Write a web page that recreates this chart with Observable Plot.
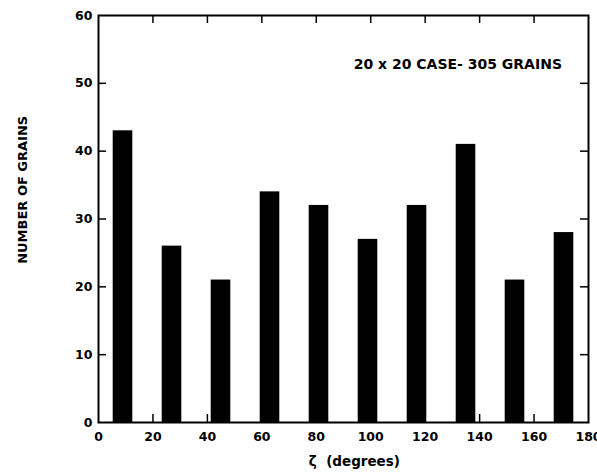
<!DOCTYPE html>
<html>
<head>
<meta charset="utf-8">
<script src="https://cdn.jsdelivr.net/npm/d3@7"></script>
<script src="https://cdn.jsdelivr.net/npm/@observablehq/plot@0.6"></script>
<style>
  html, body { margin: 0; padding: 0; background: #fff; }
  svg { display: block; }
</style>
</head>
<body>
<div id="chart"></div>
<script>
const binCenters = [9, 27, 45, 63, 81, 99, 117, 135, 153, 171];
const grainCounts = [43, 26, 21, 34, 32, 27, 32, 41, 21, 28];
const xTicks = [0, 20, 40, 60, 80, 100, 120, 140, 160, 180];
const yTicks = [0, 10, 20, 30, 40, 50, 60];
const annotation = ["20 x 20 CASE- 305 GRAINS"];
const xLabel = "ζ  (degrees)";
const yLabel = "NUMBER OF GRAINS";

const halfWidth = 3.6;
const bars = binCenters.map((c, i) => ({x1: c - halfWidth, x2: c + halfWidth, y: grainCounts[i]}));

const W = 597, H = 472, mL = 98, mR = 9, mT = 15, mB = 50;
const pw = W - mL - mR, ph = H - mT - mB;
const font = "'DejaVu Sans', 'Liberation Sans', Arial, sans-serif";

const chart = Plot.plot({
  width: W, height: H,
  marginLeft: mL, marginRight: mR, marginTop: mT, marginBottom: mB,
  style: {fontFamily: font, fontWeight: "bold", fontSize: "12.5px", color: "#000", background: "#fff"},
  x: {domain: [0, 180]},
  y: {domain: [0, 60]},
  marks: [
    Plot.rectY(bars, {x1: "x1", x2: "x2", y: "y", fill: "#000"}),
    // inward ticks
    Plot.ruleY(yTicks.slice(1, -1), {y: d => d, insetRight: pw - 8, stroke: "#000", strokeWidth: 1.5}),
    Plot.ruleY(yTicks.slice(1, -1), {y: d => d, insetLeft: pw - 8, stroke: "#000", strokeWidth: 1.5}),
    Plot.ruleX(xTicks.slice(1, -1), {x: d => d, insetTop: ph - 8, stroke: "#000", strokeWidth: 1.5}),
    Plot.ruleX(xTicks.slice(1, -1), {x: d => d, insetBottom: ph - 8, stroke: "#000", strokeWidth: 1.5}),
    Plot.frame({stroke: "#000", strokeWidth: 2}),
    Plot.axisY({ticks: yTicks, tickSize: 0, tickPadding: 6, label: null, fontSize: 12.5, fontWeight: "bold"}),
    Plot.axisX({ticks: xTicks, tickSize: 0, tickPadding: 10, label: null, fontSize: 12.5, fontWeight: "bold"}),
    Plot.text(annotation, {x: 132, y: 52.8, text: d => d, fontSize: 14, fontWeight: "bold", fill: "#000"}),
    Plot.text([xLabel], {x: 94, frameAnchor: "bottom", lineAnchor: "middle", dy: 39, text: d => d, fontSize: 13.5, fontWeight: "bold", fill: "#000"}),
    Plot.text([yLabel], {y: 34.3, frameAnchor: "left", textAnchor: "middle", lineAnchor: "middle", dx: -76, rotate: -90, text: d => d, fontSize: 13, fontWeight: "bold", fill: "#000"})
  ]
});
document.getElementById("chart").appendChild(chart);
</script>
</body>
</html>
